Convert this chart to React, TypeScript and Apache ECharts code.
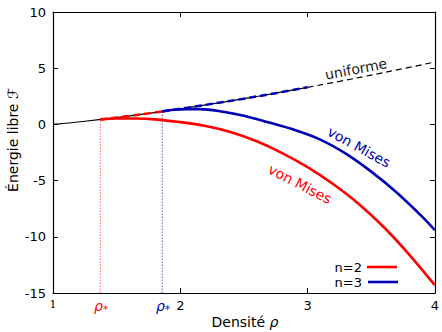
import React, { useEffect, useRef } from "react";
import * as echarts from "echarts";

// Uniform branch (black line)
const rhoUniform = [1, 1.25, 1.5, 1.75, 2, 2.25, 2.5, 2.75, 3, 3.25, 3.5, 3.75, 4];
const fUniform = [0, 0.28, 0.61, 0.98, 1.39, 1.83, 2.29, 2.78, 3.3, 3.83, 4.39, 4.96, 5.55];

// Uniform branch highlighted (dashed coloured)
const rhoUniRed = [1.371, 1.5, 1.62, 1.75, 1.858];
const fUniRed = [0.43, 0.61, 0.78, 0.98, 1.15];
const rhoUniBlue = [1.858, 2, 2.25, 2.5, 2.75, 3.0];
const fUniBlue = [1.15, 1.39, 1.83, 2.29, 2.78, 3.3];

// von Mises branches
const rhoRed = [1.371, 1.5, 1.65, 1.8, 2.0, 2.2, 2.4, 2.6, 2.8, 3.0, 3.2, 3.4, 3.6, 3.8, 4.0];
const fRed = [0.45, 0.52, 0.52, 0.45, 0.2, -0.15, -0.7, -1.5, -2.55, -3.8, -5.3, -7.05, -9.15, -11.6, -14.3];
const rhoBlue = [1.858, 1.95, 2.05, 2.15, 2.3, 2.5, 2.7, 2.9, 3.1, 3.3, 3.5, 3.7, 3.9, 4.0];
const fBlue = [1.17, 1.3, 1.36, 1.36, 1.2, 0.77, 0.16, -0.5, -1.35, -2.6, -4.2, -6.05, -8.2, -9.4];

// critical densities
const rhoStar = [1.371, 1.858];
const fStar = [0.43, 1.15];

const xTicks = [1, 2, 3, 4];
const yTicks = [-15, -10, -5, 0, 5, 10];

const RED = "#ff0000";
const BLUE = "#0000b4";
const FONT = "DejaVu Sans";

const zip = (xs: number[], ys: number[]) => xs.map((x, i) => [x, ys[i]]);

export default function App() {
  const ref = useRef<HTMLDivElement>(null);
  useEffect(() => {
    if (!ref.current) return;
    const chart = echarts.init(ref.current, null, { renderer: "svg" });
    const axisCommon = {
      type: "value" as const,
      axisLine: { show: true, onZero: false, lineStyle: { color: "#000", width: 1.2 } },
      axisTick: { show: true, inside: true, length: 5, lineStyle: { color: "#000", width: 1 } },
      splitLine: { show: false },
    };
    chart.setOption({
      animation: false,
      grid: { left: 53, right: 5, top: 12, bottom: 39, containLabel: false },
      xAxis: [
        {
          ...axisCommon,
          min: xTicks[0],
          max: xTicks[xTicks.length - 1],
          interval: 1,
          position: "bottom",
          axisLabel: {
            margin: 6,
            color: "#000",
            fontFamily: FONT,
            fontSize: 13,
            formatter: (v: number) => (v === 1 ? "{s|1}" : String(v)),
            rich: { s: { fontFamily: "DejaVu Serif", fontSize: 11, color: "#000" } },
          },
        },
        {
          ...axisCommon,
          min: xTicks[0],
          max: xTicks[xTicks.length - 1],
          interval: 1,
          position: "top",
          axisLabel: { show: false },
        },
      ],
      yAxis: [
        {
          ...axisCommon,
          min: yTicks[0],
          max: yTicks[yTicks.length - 1],
          interval: 5,
          position: "left",
          axisLabel: { margin: 7, color: "#000", fontFamily: FONT, fontSize: 13 },
        },
        {
          ...axisCommon,
          min: yTicks[0],
          max: yTicks[yTicks.length - 1],
          interval: 5,
          position: "right",
          axisLabel: { show: false },
        },
      ],
      series: [
        {
          type: "line",
          data: zip(rhoUniform.slice(0, 9), fUniform.slice(0, 9)),
          smooth: true,
          showSymbol: false,
          lineStyle: { color: "#000", width: 1.2 },
        },
        {
          type: "line",
          data: zip(rhoUniform.slice(8), fUniform.slice(8)),
          smooth: true,
          showSymbol: false,
          lineStyle: { color: "#000", width: 1.2, type: [6, 4] },
        },
        {
          type: "line",
          data: zip(rhoUniRed, fUniRed),
          smooth: true,
          showSymbol: false,
          lineStyle: { color: RED, width: 2.5, type: [7, 4] },
        },
        {
          type: "line",
          data: zip(rhoUniBlue, fUniBlue),
          smooth: true,
          showSymbol: false,
          lineStyle: { color: BLUE, width: 2.5, type: [7, 4] },
        },
        {
          type: "line",
          data: [[rhoStar[0], yTicks[0]], [rhoStar[0], fStar[0]]],
          showSymbol: false,
          lineStyle: { color: "#ff6060", width: 1, type: [1.5, 1.5] },
        },
        {
          type: "line",
          data: [[rhoStar[1], yTicks[0]], [rhoStar[1], fStar[1]]],
          showSymbol: false,
          lineStyle: { color: "#5a5ad2", width: 1, type: [1.5, 1.5] },
        },
        {
          type: "line",
          data: zip(rhoRed, fRed),
          smooth: 0.3,
          showSymbol: false,
          lineStyle: { color: RED, width: 2.6 },
        },
        {
          type: "line",
          data: zip(rhoBlue, fBlue),
          smooth: 0.3,
          showSymbol: false,
          lineStyle: { color: BLUE, width: 2.6 },
        },
      ],
      graphic: [
        {
          type: "text",
          x: 356,
          y: 69,
          rotation: 0.19,
          style: { text: "uniforme", fill: "#222", font: `14px "${FONT}"`, align: "center", verticalAlign: "middle" },
        },
        {
          type: "text",
          x: 359,
          y: 147,
          rotation: -0.5,
          style: { text: "von Mises", fill: BLUE, font: `14px "${FONT}"`, align: "center", verticalAlign: "middle" },
        },
        {
          type: "text",
          x: 300,
          y: 184,
          rotation: -0.48,
          style: { text: "von Mises", fill: RED, font: `14px "${FONT}"`, align: "center", verticalAlign: "middle" },
        },
        {
          type: "text",
          x: 362,
          y: 267,
          style: { text: "n=2", fill: "#000", font: `13px "${FONT}"`, align: "right", verticalAlign: "middle" },
        },
        {
          type: "text",
          x: 362,
          y: 282,
          style: { text: "n=3", fill: "#000", font: `13px "${FONT}"`, align: "right", verticalAlign: "middle" },
        },
        { type: "line", shape: { x1: 367, y1: 267, x2: 397, y2: 267 }, style: { stroke: RED, lineWidth: 2.6 } },
        { type: "line", shape: { x1: 368, y1: 282, x2: 398, y2: 282 }, style: { stroke: BLUE, lineWidth: 2.6 } },
        {
          type: "text",
          x: 101,
          y: 306,
          style: {
            text: "{r|ρ}{s|*}",
            align: "center",
            verticalAlign: "middle",
            rich: {
              r: { fill: RED, font: `italic 14px "${FONT}"` },
              s: { fill: RED, font: `10px "${FONT}"`, padding: [6, 0, 0, 0] },
            },
          },
        },
        {
          type: "text",
          x: 163,
          y: 306,
          style: {
            text: "{r|ρ}{s|*}",
            align: "center",
            verticalAlign: "middle",
            rich: {
              r: { fill: BLUE, font: `italic 14px "${FONT}"` },
              s: { fill: BLUE, font: `10px "${FONT}"`, padding: [6, 0, 0, 0] },
            },
          },
        },
        {
          type: "text",
          x: 245,
          y: 322,
          style: {
            text: "{a|Densité }{b|ρ}",
            align: "center",
            verticalAlign: "middle",
            rich: {
              a: { fill: "#000", font: `14px "${FONT}"` },
              b: { fill: "#000", font: `italic 14px "${FONT}"` },
            },
          },
        },
        {
          type: "text",
          x: 13,
          y: 140,
          rotation: Math.PI / 2,
          style: {
            text: "{a|Énergie libre }{b|ℱ}",
            align: "center",
            verticalAlign: "middle",
            rich: {
              a: { fill: "#000", font: `14px "${FONT}"` },
              b: { fill: "#000", font: `italic 14px "${FONT}"` },
            },
          },
        },
      ],
    });
    return () => chart.dispose();
  }, []);
  return (
    <div
      ref={ref}
      style={{ position: "fixed", left: 0, top: 0, width: 442, height: 332, background: "#fff" }}
    />
  );
}
